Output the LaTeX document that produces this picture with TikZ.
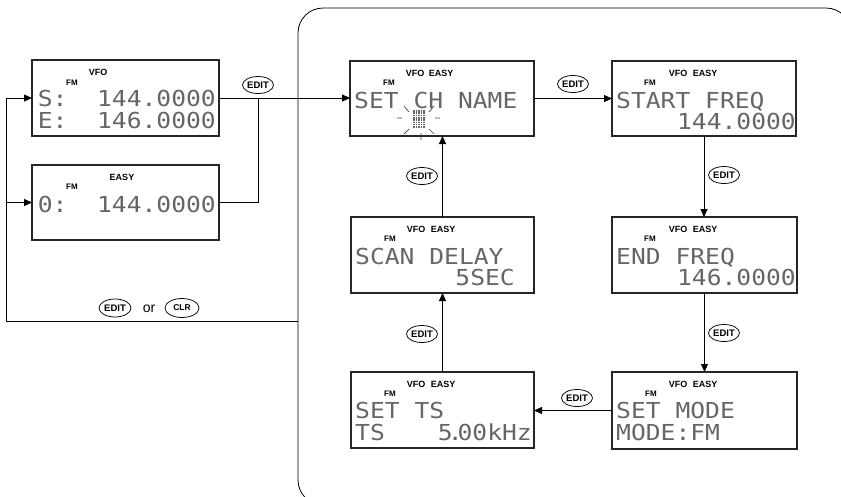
\documentclass[tikz,border=0pt]{standalone}
\usepackage{fontspec}
\setsansfont{Liberation Sans}
\newfontfamily\lcdfont[FakeStretch=1.12]{DejaVu Sans Mono}
\usetikzlibrary{arrows.meta,calc,shapes.geometric}
\begin{document}
\begin{tikzpicture}[x=1pt,y=-1pt,
 panelbox/.style={draw=black!85, line width=1.1pt, inner sep=0pt, outer sep=0pt, anchor=north west, fill=white},
 lcd/.style={font=\lcdfont\fontsize{22}{24}\selectfont, text=black!60, inner sep=0pt},
 tag/.style={font=\sffamily\bfseries\fontsize{9}{10}\selectfont, inner sep=0pt},
 fmtag/.style={font=\sffamily\bfseries\fontsize{8}{9}\selectfont, inner sep=0pt},
 key/.style={ellipse, draw, line width=0.75pt, inner sep=0pt, outer sep=0pt, minimum width=31, minimum height=17, font=\sffamily\bfseries\fontsize{9.5}{10}\selectfont, fill=white},
 flow/.style={line width=0.8pt, -{Triangle[length=8pt,width=7pt]}},
 wire/.style={line width=0.8pt}]
\useasboundingbox (0,0) rectangle (841,496);
\begin{scope}
\clip (0,0) rectangle (841,496);
\draw[wire, rounded corners=25pt] (298,8) rectangle (851,505);
\end{scope}

% VFO panel
\node[panelbox, minimum width=187, minimum height=76] (vfo) at (32,60) {};
\node[tag] at ($(vfo.north west)+(66,12)$) {VFO};
\node[fmtag] at ($(vfo.north west)+(40,23)$) {FM};
\node[lcd, anchor=base east] at ($(vfo.north west)+(184,46)$) {S:~~144.0000};
\node[lcd, anchor=base east] at ($(vfo.north west)+(184,68)$) {E:~~146.0000};

% EASY panel
\node[panelbox, minimum width=187, minimum height=75] (easy) at (32,165) {};
\node[tag] at ($(easy.north west)+(90,12)$) {EASY};
\node[fmtag] at ($(easy.north west)+(40,22)$) {FM};
\node[lcd, anchor=base east] at ($(easy.north west)+(184,47)$) {0:~~144.0000};

% SET CH NAME
\node[panelbox, minimum width=184, minimum height=75] (ch) at (350,61) {};
\node[tag] at ($(ch.north west)+(65,12)$) {VFO};
\node[tag] at ($(ch.north west)+(91,12)$) {EASY};
\node[fmtag] at ($(ch.north west)+(39,22)$) {FM};
\node[lcd, anchor=base west] at ($(ch.north west)+(4,47)$) {SET CH NAME};
\foreach \i in {0,...,4} \foreach \j in {0,...,7}
  \fill[black!60] ({413+\i*2.5},{110+\j*2.3}) rectangle ++(1.7,1.6);
\draw[line width=0.7pt, black!75] (397,118)--(402,118) (435,118)--(440,118)
  (404,106)--(409,112) (434,106)--(429,112) (404,134)--(409,129)
  (434,134)--(429,129) (421,133)--(421,140);

% START FREQ
\node[panelbox, minimum width=184, minimum height=75] (start) at (612,61) {};
\node[tag] at ($(start.north west)+(66,12)$) {VFO};
\node[tag] at ($(start.north west)+(93,12)$) {EASY};
\node[fmtag] at ($(start.north west)+(38,22)$) {FM};
\node[lcd, anchor=base west] at ($(start.north west)+(4,47)$) {START FREQ};
\node[lcd, anchor=base east] at ($(start.north west)+(184,68)$) {144.0000};

% END FREQ
\node[panelbox, minimum width=185, minimum height=76] (endf) at (612,217) {};
\node[tag] at ($(endf.north west)+(66,12)$) {VFO};
\node[tag] at ($(endf.north west)+(93,12)$) {EASY};
\node[fmtag] at ($(endf.north west)+(38,22)$) {FM};
\node[lcd, anchor=base west] at ($(endf.north west)+(4,47)$) {END FREQ};
\node[lcd, anchor=base east] at ($(endf.north west)+(184,68)$) {146.0000};

% SET MODE
\node[panelbox, minimum width=185, minimum height=77] (mode) at (612,372) {};
\node[tag] at ($(mode.north west)+(66,12)$) {VFO};
\node[tag] at ($(mode.north west)+(93,12)$) {EASY};
\node[fmtag] at ($(mode.north west)+(39,22)$) {FM};
\node[lcd, anchor=base west] at ($(mode.north west)+(4,46)$) {SET MODE};
\node[lcd, anchor=base west] at ($(mode.north west)+(4,68)$) {MODE:FM};

% SCAN DELAY
\node[panelbox, minimum width=183, minimum height=76] (scan) at (351,217) {};
\node[tag] at ($(scan.north west)+(65,12)$) {VFO};
\node[tag] at ($(scan.north west)+(92,12)$) {EASY};
\node[fmtag] at ($(scan.north west)+(39,22)$) {FM};
\node[lcd, anchor=base west] at ($(scan.north west)+(4,47)$) {SCAN DELAY};
\node[lcd, anchor=base east] at ($(scan.north west)+(164,68)$) {5SEC};

% SET TS
\node[panelbox, minimum width=183, minimum height=76] (ts) at (351,372) {};
\node[tag] at ($(ts.north west)+(65,12)$) {VFO};
\node[tag] at ($(ts.north west)+(92,12)$) {EASY};
\node[fmtag] at ($(ts.north west)+(39,22)$) {FM};
\node[lcd, anchor=base west] at ($(ts.north west)+(4,46)$) {SET TS};
\node[lcd, anchor=base west] at ($(ts.north west)+(4,68)$) {TS};
\node[lcd, anchor=base east] at ($(ts.north west)+(181,68)$) {5\kern-5pt.\kern-5pt00kHz};

% keys
\node[key] (e1) at (258,85) {EDIT};
\node[key] (e2) at (573,84) {EDIT};
\node[key] (e3) at (724,175) {EDIT};
\node[key] (e4) at (724,333) {EDIT};
\node[key] (e5) at (577,398) {EDIT};
\node[key] (e6) at (422,334) {EDIT};
\node[key] (e7) at (422,176) {EDIT};
\node[key, minimum width=32, minimum height=18] (e8) at (115,308) {EDIT};
\node[font=\sffamily\fontsize{14}{15}\selectfont, inner sep=0pt] (or) at (149,309) {or};
\node[key, minimum width=34, minimum height=19, font=\sffamily\bfseries\fontsize{8.5}{9}\selectfont] (clr) at (182,308) {CLR};

% connectors
\coordinate (j1) at (258,98);
\draw[flow] (vfo.east) -- (vfo.east -| ch.west);
\draw[wire] (easy.east) -| (j1);
\draw[flow] (ch.east) -- (ch.east -| start.west);
\draw[flow] (start.south) -- (start.south |- endf.north);
\draw[flow] (endf.south) -- (endf.south |- mode.north);
\draw[flow] (mode.west) -- (mode.west -| ts.east);
\draw[flow] (ts.north) -- (ts.north |- scan.south);
\draw[flow] (scan.north) -- (scan.north |- ch.south);
\coordinate (lb) at (298,321);
\coordinate (lc) at (6,321);
\draw[flow] (lb) -- (lc) |- (vfo.west);
\draw[flow] (lc |- easy.west) -- (easy.west);
\end{tikzpicture}
\end{document}
